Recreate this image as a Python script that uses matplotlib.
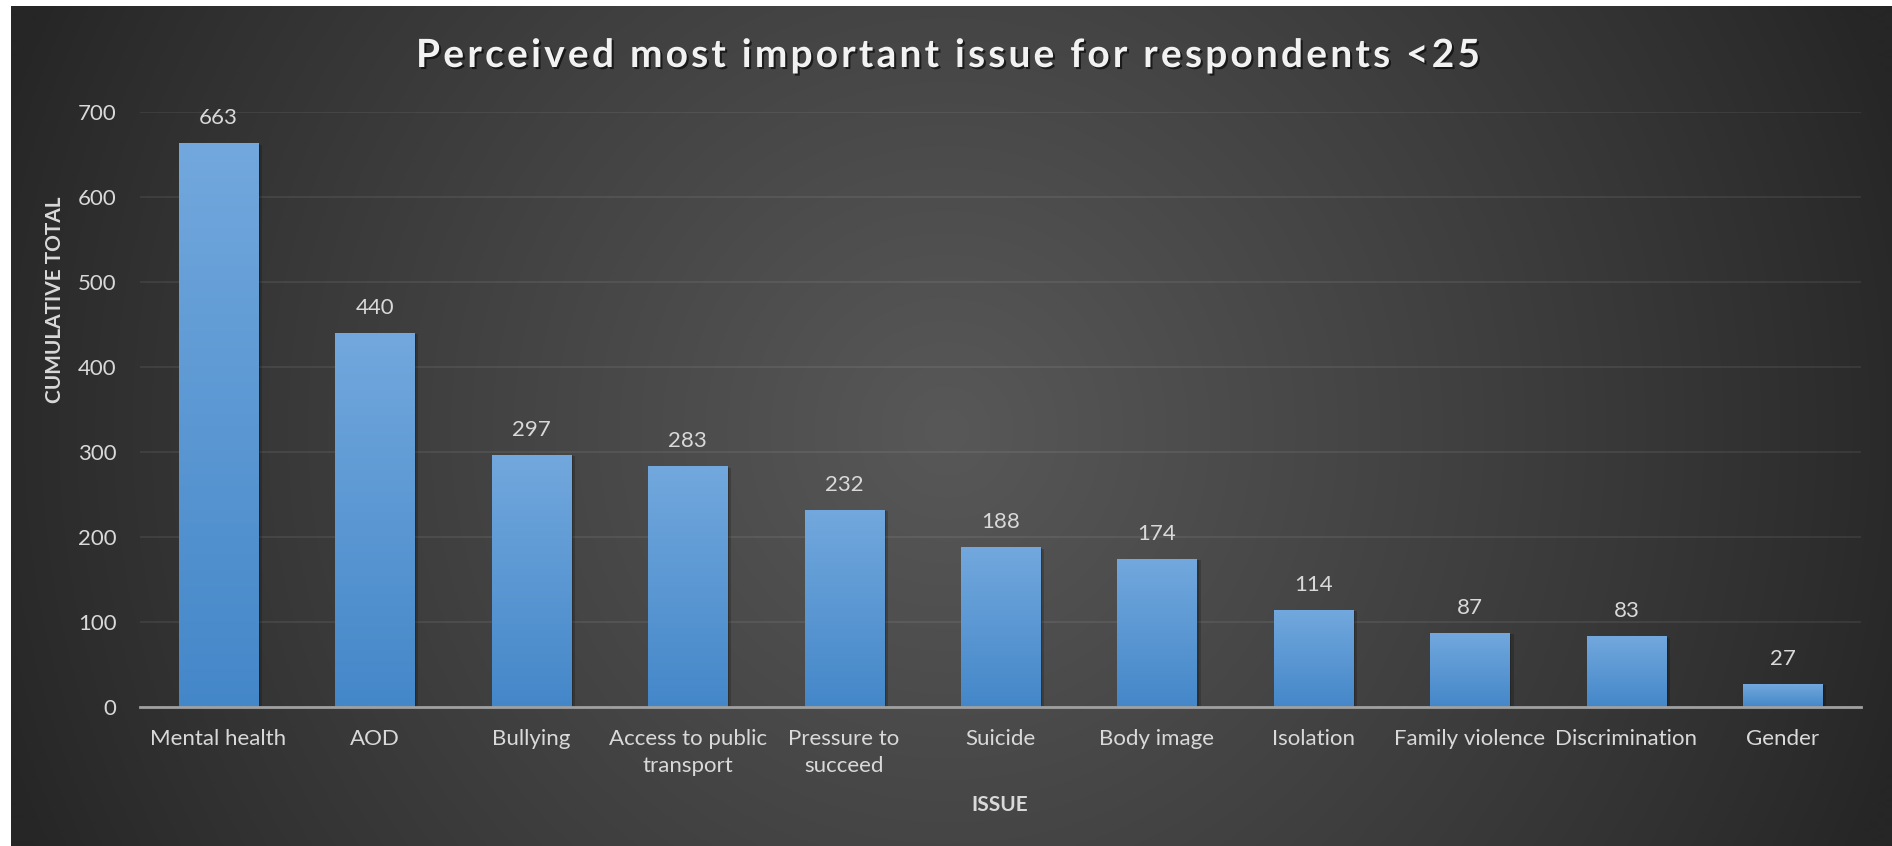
import numpy as np
import matplotlib
matplotlib.use("Agg")
import matplotlib.pyplot as plt
import matplotlib.patheffects as pe

issues = ["Mental health", "AOD", "Bullying", "Access to public\ntransport",
          "Pressure to\nsucceed", "Suicide", "Body image", "Isolation",
          "Family violence", "Discrimination", "Gender"]
totals = [663, 440, 297, 283, 232, 188, 174, 114, 87, 83, 27]
yticks = [0, 100, 200, 300, 400, 500, 600, 700]

title = "Perceived most important issue for respondents <25"
xlabel = "ISSUE"
ylabel = "CUMULATIVE TOTAL"

W, H = 1892, 846
FONT = "Lato"
TXT = "#d9d9d9"

fig = plt.figure(figsize=(W / 100, H / 100), dpi=100, facecolor="white")

# dark radial background
bg = fig.add_axes([11 / W, 0, 1 - 11 / W, 1 - 6 / H], zorder=-10)
bg.set_axis_off()
gx, gy = np.meshgrid(np.arange(W - 11), np.arange(H - 6))
dist = np.hypot(gx - 935, gy - 425) / 1000.0
shade = np.clip(1 - dist, 0, 1) ** 0.9
val = (0x26 + (0x58 - 0x26) * shade) / 255.0
bg.imshow(np.dstack([val, val, val]), aspect="auto", extent=[0, 1, 0, 1],
          interpolation="bilinear")
bg.set_xlim(0, 1)
bg.set_ylim(0, 1)

ax = fig.add_axes([140 / W, (H - 707) / H, (1861 - 140) / W, (707 - 112) / H])
ax.patch.set_alpha(0)

x = np.arange(len(issues))
bars = ax.bar(x, totals, width=0.505, color="#5b9bd5", zorder=2,
              path_effects=[pe.SimplePatchShadow(offset=(3, -1), shadow_rgbFace="black", alpha=0.18),
                            pe.SimplePatchShadow(offset=(1.5, -0.5), shadow_rgbFace="black", alpha=0.18),
                            pe.Normal()])

# vertical gradient inside each bar
grad = np.linspace(0, 1, 256).reshape(-1, 1)
top = np.array([0x72, 0xa8, 0xdd]) / 255.0
bot = np.array([0x44, 0x87, 0xc9]) / 255.0
cols = bot + (top - bot) * grad
img = cols.reshape(256, 1, 3)
for b in bars:
    x0, w, h = b.get_x(), b.get_width(), b.get_height()
    im = ax.imshow(img, extent=[x0, x0 + w, 0, h], origin="lower", aspect="auto",
                   zorder=3, interpolation="bilinear")
    im.set_clip_path(b)

for xi, v in zip(x, totals):
    ax.annotate(str(v), (xi, v), xytext=(0, 18), textcoords="offset points",
                ha="center", va="center", color=TXT, fontsize=16, family=FONT)

ax.set_xlim(-0.5, len(issues) - 0.5)
ax.set_ylim(0, 700)
ax.set_yticks(yticks)
ax.set_xticks(x)
ax.set_xticklabels(issues, linespacing=1.45)
ax.tick_params(axis="both", length=0, colors=TXT, labelsize=16)
ax.tick_params(axis="x", pad=16)
ax.tick_params(axis="y", pad=17)
for lab in ax.get_xticklabels() + ax.get_yticklabels():
    lab.set_family(FONT)

ax.grid(axis="y", color="white", alpha=0.08, linewidth=1.3, zorder=0)
ax.set_axisbelow(True)
for s in ["top", "right", "left"]:
    ax.spines[s].set_visible(False)
ax.spines["bottom"].set_color("#a0a0a0")
ax.spines["bottom"].set_linewidth(2)
ax.spines["bottom"].set_zorder(5)

fig.text(1000 / W, 1 - 805 / H, xlabel, ha="center", va="center", color=TXT,
         fontsize=15, fontweight="bold", family=FONT)
fig.text(55 / W, 1 - 300 / H, ylabel, ha="center", va="center", rotation=90,
         color=TXT, fontsize=15, fontweight="bold", family=FONT)


def spaced_title(s, cx, base_y, spacing, **kw):
    r = fig.canvas.get_renderer()
    t = fig.text(0, 0, "|", **kw)
    wbar = t.get_window_extent(r).width
    t.remove()
    adv = []
    for i in range(len(s) + 1):
        t = fig.text(0, 0, s[:i] + "|", **kw)
        adv.append(t.get_window_extent(r).width - wbar)
        t.remove()
    total = adv[-1] + spacing * (len(s) - 1)
    left = cx - total / 2
    for i, c in enumerate(s):
        if c == " ":
            continue
        fig.text((left + adv[i] + i * spacing) / W, 1 - base_y / H, c,
                 ha="left", va="baseline", **kw)


spaced_title(title, 948, 67, 3.2, color="#f2f2f2", fontsize=28, fontweight="bold",
             family=FONT,
             path_effects=[pe.withSimplePatchShadow(offset=(1.5, -1.5), shadow_rgbFace="black", alpha=0.6)])

fig.savefig("out.png", dpi=100, facecolor=fig.get_facecolor())
